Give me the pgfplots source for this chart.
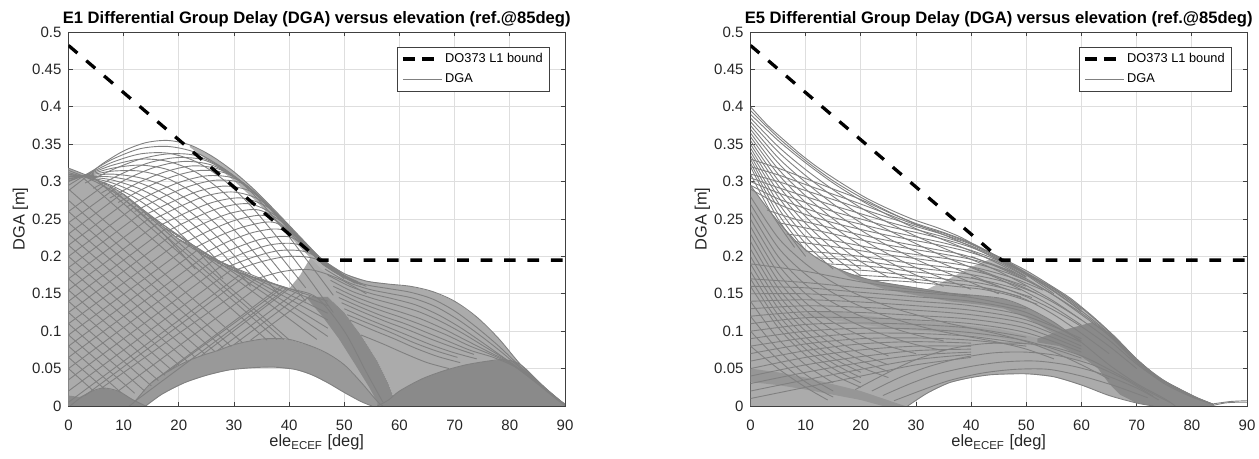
\documentclass[border=0pt]{standalone}
\usepackage{pgfplots}
\pgfplotsset{compat=1.18}
\usepackage{fontspec}
\setmainfont{Liberation Sans}

\pgfplotsset{
  dgaaxis/.style={
    scale only axis, width=248.25pt, height=187pt,
    xmin=0, xmax=90, ymin=0, ymax=0.5,
    xtick={0,10,20,30,40,50,60,70,80,90},
    xticklabels={0,10,20,30,40,50,60,70,80,90},
    ytick={0,0.05,0.1,0.15,0.2,0.25,0.3,0.35,0.4,0.45,0.5},
    yticklabels={0,0.05,0.1,0.15,0.2,0.25,0.3,0.35,0.4,0.45,0.5},
    /pgf/number format/assume math mode=true,
    tick align=inside, major tick length=2.2pt,
    tick style={black!75, line width=0.4pt},
    axis line style={black!75, line width=0.4pt},
    grid=major, major grid style={black!13, line width=0.4pt},
    ticklabel style={font=\fontsize{7.5}{9}\selectfont, text=black!85},
    xticklabel style={yshift=-3.4pt},
    xlabel style={at={(axis description cs:0.5,0)}, anchor=base, yshift=-20.5pt, font=\fontsize{8.2}{10}\selectfont, text=black!85},
    ylabel style={at={(axis description cs:-0.097,0.5)}, anchor=center, font=\fontsize{8.2}{10}\selectfont, text=black!85},
    title style={at={(axis description cs:0.5,1)}, anchor=base, yshift=-2pt, font=\bfseries\fontsize{8.3}{10}\selectfont},
    xlabel={ele\textsubscript{ECEF} [deg]},
    ylabel={DGA [m]},
    legend cell align=left,
    legend style={at={(axis description cs:0.97,0.961)}, anchor=north east,
      draw=black!75, line width=0.4pt, fill=white,
      font=\fontsize{6.4}{7.5}\selectfont,
      inner xsep=2pt, inner ysep=1.5pt, row sep=1.2pt,
      nodes={inner sep=1.5pt}},
  },
  dga/.style={gray, line width=0.45pt, smooth, tension=0.5, forget plot},
  hatch/.style={draw=none, fill=gray!66, forget plot},
  dense/.style={draw=none, fill=gray!92, forget plot},
  bound/.style={black, line width=1.65pt, dash pattern=on 5.85pt off 5.85pt, forget plot},
}

\begin{document}
\begin{tikzpicture}
\path[use as bounding box] (-34.25pt,-26.5pt) rectangle (595.25pt,203pt);

%================= E1 =================
\begin{axis}[dgaaxis, at={(0pt,0pt)}, anchor=south west,
  title={E1 Differential Group Delay (DGA) versus elevation (ref.@85deg)}]
\addlegendimage{legend image code/.code={\draw[black,line width=1.65pt] (0pt,0pt)--(6pt,0pt) (9.5pt,0pt)--(15.5pt,0pt);}}
\addlegendentry{DO373 L1 bound}
\addlegendimage{legend image code/.code={\draw[gray,line width=0.45pt] (0pt,0pt)--(19.5pt,0pt);}}
\addlegendentry{DGA}

% regions
\addplot[hatch] coordinates {(0,0) (0,0.318) (5,0.303) (10,0.283) (15,0.253) (20,0.223) (25,0.2) (30,0.181) (35,0.168) (40,0.157) (45,0.145) (48,0.11) (50,0.08) (53,0.045) (56,0.008) (57,0) (56,0.006) (53,0.032) (50,0.055) (47,0.07) (44,0.08) (40,0.089) (36,0.09) (33,0.087) (30,0.082) (27,0.074) (24,0.067) (21,0.058) (18,0.046) (15,0.031) (12,0.006) (11,0)} -- cycle;
\addplot[draw=none, fill=gray!80, forget plot] coordinates {(11,0) (12,0.006) (15,0.031) (18,0.046) (21,0.058) (24,0.067) (27,0.074) (30,0.082) (33,0.087) (36,0.09) (40,0.089) (44,0.08) (47,0.07) (50,0.055) (53,0.032) (56,0.006) (57,0) (55,0) (53,0.006) (50,0.018) (47,0.031) (44,0.042) (41,0.049) (37,0.052) (33,0.051) (29,0.048) (25,0.041) (21,0.031) (17,0.016) (14,0)} -- cycle;
\addplot[dense] coordinates {(0,0) (0,0.014) (2,0.012) (4,0.019) (6.3,0.024) (9,0.02) (11.5,0.009) (14,0)} -- cycle;
\addplot[hatch] coordinates {(40,0.157) (42,0.175) (44,0.2) (46,0.196) (50,0.177) (54,0.167) (58,0.163) (62,0.16) (66,0.153) (70,0.14) (74,0.119) (78,0.09) (82,0.055) (86,0.027) (90,0) (59.5,0) (58,0.03) (56,0.06) (53,0.095) (50,0.125) (47,0.146) (45,0.145)} -- cycle;
\addplot[dense] coordinates {(43,0.146) (46,0.12) (49,0.09) (52,0.055) (54.5,0.025) (56,0.005) (56,0) (59.5,0) (58,0.03) (56,0.06) (53,0.095) (50,0.125) (47,0.146)} -- cycle;
\addplot[dense] coordinates {(56,0) (58,0.008) (60,0.02) (64,0.036) (68,0.047) (72,0.055) (76,0.06) (79,0.062) (81,0.059) (83,0.047) (86,0.027) (90,0)} -- cycle;
\addplot[draw=none, fill=gray!60, forget plot] coordinates {(22,0.349) (26,0.334) (30,0.313) (34,0.287) (38,0.257) (42,0.226) (46,0.196) (50,0.177) (50,0.165) (46,0.182) (42,0.212) (38,0.243) (34,0.274) (30,0.301) (26,0.325) (22,0.346)} -- cycle;

% upper family
\addplot[dga] coordinates {(0,0.288) (3,0.305) (6,0.323) (10,0.341) (14,0.352) (18,0.355) (22,0.349) (26,0.334) (30,0.313) (34,0.287) (38,0.257) (42,0.226) (46,0.196) (50,0.177) (54,0.167) (58,0.163) (62,0.16) (66,0.153) (70,0.14) (74,0.119) (78,0.09) (82,0.055) (86,0.027) (90,0.001)};
\addplot[dga] coordinates {(0,0.295) (4,0.313) (8,0.33) (13,0.344) (18,0.347) (23,0.339) (28,0.318) (33,0.287) (38,0.245) (43,0.197) (48,0.148)};
\addplot[dga] coordinates {(0,0.30) (4,0.312) (8,0.326) (13,0.337) (18,0.338) (23,0.327) (28,0.303) (33,0.268) (38,0.224) (43,0.176) (48,0.125)};
\addplot[dga] coordinates {(0,0.301) (4,0.311) (8,0.322) (13,0.33) (18,0.327) (23,0.313) (28,0.286) (33,0.249) (38,0.204) (43,0.158)};
\addplot[dga] coordinates {(0,0.303) (4,0.31) (8,0.318) (13,0.322) (18,0.316) (23,0.298) (28,0.268) (33,0.229) (38,0.184) (43,0.14)};
\addplot[dga] coordinates {(0,0.304) (4,0.309) (8,0.314) (13,0.314) (18,0.304) (23,0.283) (28,0.251) (33,0.211) (38,0.167)};
\addplot[dga] coordinates {(0,0.306) (4,0.308) (8,0.31) (13,0.305) (18,0.292) (23,0.268) (28,0.234) (33,0.193) (38,0.15)};
\addplot[dga] coordinates {(0,0.307) (4,0.307) (8,0.306) (13,0.298) (18,0.281) (23,0.254) (28,0.218) (33,0.176)};
\addplot[dga] coordinates {(0,0.309) (4,0.306) (8,0.302) (13,0.29) (18,0.27) (23,0.24) (28,0.203) (33,0.16)};
\addplot[dga] coordinates {(0,0.31) (4,0.305) (8,0.298) (13,0.282) (18,0.258) (23,0.225) (28,0.187)};
\addplot[dga] coordinates {(0,0.312) (4,0.304) (8,0.294) (13,0.274) (18,0.246) (23,0.21) (28,0.17)};
\addplot[dga] coordinates {(0,0.315) (4,0.303) (8,0.287) (13,0.259) (18,0.224) (23,0.183)};
\addplot[dga] coordinates {(3,0.298) (8,0.316) (13,0.33) (18,0.337) (23,0.335) (28,0.318) (33,0.29) (38,0.254) (43,0.214) (48,0.18) (53,0.164)};
\addplot[dga] coordinates {(4.5,0.291) (9.5,0.31) (14.5,0.325) (19.5,0.332) (24.5,0.329) (29.5,0.31) (34.5,0.28) (39.5,0.243) (44.5,0.204) (49.5,0.175)};
\addplot[dga] coordinates {(6,0.285) (11,0.305) (16,0.32) (21,0.327) (26,0.322) (31,0.302) (36,0.27) (41,0.232) (46,0.194) (51,0.17)};
\addplot[dga] coordinates {(7.5,0.278) (12.5,0.298) (17.5,0.313) (22.5,0.321) (27.5,0.316) (32.5,0.293) (37.5,0.258) (42.5,0.221) (47.5,0.185) (52.5,0.166)};
\addplot[dga] coordinates {(9,0.272) (14,0.292) (19,0.307) (24,0.315) (29,0.31) (34,0.283) (39,0.245) (44,0.208) (49,0.176)};
\addplot[dga] coordinates {(10.5,0.266) (15.5,0.285) (20.5,0.3) (25.5,0.308) (30.5,0.303) (35.5,0.274) (40.5,0.232) (45.5,0.197) (50.5,0.171)};
\addplot[dga] coordinates {(12,0.26) (17,0.279) (22,0.294) (27,0.302) (32,0.296) (37,0.26) (42,0.22) (47,0.186) (52,0.164)};
\addplot[dga] coordinates {(13.5,0.254) (18.5,0.272) (23.5,0.287) (28.5,0.294) (33.5,0.285) (38.5,0.248) (43.5,0.21) (48.5,0.18)};
\addplot[dga] coordinates {(15,0.248) (20,0.266) (25,0.281) (30,0.286) (35,0.274) (40,0.236) (45,0.2) (50,0.172)};
\addplot[dga] coordinates {(16.5,0.241) (21.5,0.259) (26.5,0.273) (31.5,0.278) (36.5,0.264) (41.5,0.226) (46.5,0.191) (51.5,0.168)};
\addplot[dga] coordinates {(18,0.234) (23,0.252) (28,0.266) (33,0.27) (38,0.252) (43,0.212) (48,0.183) (53,0.162)};
\addplot[dga] coordinates {(19.5,0.226) (24.5,0.244) (29.5,0.258) (34.5,0.262) (39.5,0.242) (44.5,0.205) (49.5,0.177)};
\addplot[dga] coordinates {(21,0.218) (26,0.236) (31,0.25) (36,0.254) (41,0.228) (46,0.19) (51,0.168)};
\addplot[dga] coordinates {(22.5,0.21) (27.5,0.228) (32.5,0.241) (37.5,0.245) (42.5,0.218) (47.5,0.185) (52.5,0.163)};
\addplot[dga] coordinates {(24,0.202) (29,0.22) (34,0.233) (39,0.235) (44,0.205) (49,0.176) (54,0.16)};
\addplot[dga] coordinates {(25.5,0.196) (30.5,0.212) (35.5,0.224) (40.5,0.225) (45.5,0.196) (50.5,0.172)};
\addplot[dga] coordinates {(27,0.19) (32,0.205) (37,0.216) (42,0.215) (47,0.186) (52,0.165)};
\addplot[dga] coordinates {(28.5,0.185) (33.5,0.199) (38.5,0.208) (43.5,0.205) (48.5,0.18)};
\addplot[dga] coordinates {(30,0.181) (35,0.193) (40,0.2) (45,0.196) (50,0.17)};
\addplot[dga] coordinates {(34,0.17) (39,0.18) (44,0.182) (49,0.17) (54,0.15)};
\addplot[dga] coordinates {(0,0.318) (5,0.303) (10,0.283) (15,0.253) (20,0.223) (25,0.2) (30,0.181) (35,0.168) (40,0.157) (45,0.145) (50,0.1) (54,0.045) (57,0.005)};
% crosshatch in the dense left region
\addplot[dga] coordinates {(0,0.26) (7,0.298)};
\addplot[dga] coordinates {(0,0.245) (8.5,0.291)};
\addplot[dga] coordinates {(0,0.23) (9.7,0.284)};
\addplot[dga] coordinates {(0,0.215) (11,0.276)};
\addplot[dga] coordinates {(0,0.2) (12.5,0.269)};
\addplot[dga] coordinates {(0,0.185) (13.8,0.261)};
\addplot[dga] coordinates {(0,0.17) (15,0.253)};
\addplot[dga] coordinates {(0,0.155) (16.3,0.245)};
\addplot[dga] coordinates {(0,0.14) (17.6,0.237)};
\addplot[dga] coordinates {(0,0.125) (19,0.23)};
\addplot[dga] coordinates {(0,0.11) (20.5,0.222)};
\addplot[dga] coordinates {(0,0.095) (22,0.215)};
\addplot[dga] coordinates {(0,0.08) (23.3,0.208)};
\addplot[dga] coordinates {(0,0.065) (25,0.202)};
\addplot[dga] coordinates {(0,0.05) (26.5,0.196)};
\addplot[dga] coordinates {(0,0.035) (28,0.189)};
\addplot[dga] coordinates {(0,0.02) (29.5,0.182)};
\addplot[dga] coordinates {(0,0.005) (31,0.175)};
\addplot[dga] coordinates {(3,0.014) (32,0.1735)};
\addplot[dga] coordinates {(6,0.024) (34,0.17)};
\addplot[dga] coordinates {(9,0.02) (35.8,0.167)};
\addplot[dga] coordinates {(12,0.006) (39.5,0.157)};
\addplot[dga] coordinates {(15,0.031) (38.5,0.16)};
\addplot[dga] coordinates {(18,0.046) (39,0.159)};
\addplot[dga] coordinates {(24,0.067) (40,0.157)};
\addplot[dga] coordinates {(27,0.074) (41.7,0.155)};
\addplot[dga] coordinates {(30,0.082) (42.5,0.151)};
\addplot[dga] coordinates {(33,0.088) (43.8,0.147)};
\addplot[dga] coordinates {(0,0.29) (31.5,0.085)};
\addplot[dga] coordinates {(0,0.275) (29.5,0.0795)};
\addplot[dga] coordinates {(0,0.26) (28,0.078)};
\addplot[dga] coordinates {(0,0.245) (26.5,0.073)};
\addplot[dga] coordinates {(0,0.23) (24.8,0.069)};
\addplot[dga] coordinates {(0,0.215) (23,0.065)};
\addplot[dga] coordinates {(0,0.2) (21.5,0.06)};
\addplot[dga] coordinates {(0,0.185) (20,0.055)};
\addplot[dga] coordinates {(0,0.17) (18.7,0.048)};
\addplot[dga] coordinates {(0,0.155) (17.5,0.041)};
\addplot[dga] coordinates {(0,0.14) (16.3,0.034)};
\addplot[dga] coordinates {(0,0.125) (15,0.027)};
\addplot[dga] coordinates {(0,0.11) (13.8,0.02)};
\addplot[dga] coordinates {(0,0.095) (12,0.017)};
\addplot[dga] coordinates {(0,0.08) (9.5,0.018)};
\addplot[dga] coordinates {(0,0.065) (6.5,0.023)};
\addplot[dga] coordinates {(0,0.05) (4.4,0.021)};
\addplot[dga] coordinates {(2.5,0.306) (36,0.088)};
\addplot[dga] coordinates {(5,0.303) (37.8,0.089)};
\addplot[dga] coordinates {(7.5,0.293) (39,0.089)};
\addplot[dga] coordinates {(10,0.283) (40,0.0885)};
\addplot[dga] coordinates {(12.5,0.268) (45,0.089)};
\addplot[dga] coordinates {(15,0.253) (47,0.093)};
\addplot[dga] coordinates {(17.5,0.238) (47,0.104)};
\addplot[dga] coordinates {(20,0.223) (47,0.115)};
\addplot[dga] coordinates {(22.5,0.211) (47,0.124)};
\addplot[dga] coordinates {(25,0.2) (47,0.134)};
\addplot[dga] coordinates {(30,0.181) (47,0.14)};
% right region
\addplot[dga] coordinates {(46,0.19) (50,0.172) (54,0.162) (58,0.157) (62,0.152) (66,0.143) (70,0.127) (74,0.105) (78,0.08) (82,0.052) (86,0.026) (90,0.001)};
\addplot[dga] coordinates {(46.5,0.183) (50.5,0.166) (54.5,0.156) (58.5,0.15) (62.5,0.144) (66.5,0.133) (70.5,0.116) (74.5,0.095) (78.5,0.072) (82.5,0.047) (86.5,0.023) (90,0.002)};
\addplot[dga] coordinates {(47,0.175) (51,0.16) (55,0.15) (59,0.143) (63,0.135) (67,0.122) (71,0.105) (75,0.085) (79,0.064) (83,0.042) (87,0.02) (90,0.002)};
\addplot[dga] coordinates {(47.5,0.168) (51.5,0.153) (55.5,0.143) (59.5,0.135) (63.5,0.126) (67.5,0.113) (71.5,0.097) (75.5,0.079) (79.5,0.061) (83.5,0.039) (87.5,0.016)};
\addplot[dga] coordinates {(48,0.16) (52,0.146) (56,0.135) (60,0.126) (64,0.116) (68,0.103) (72,0.088) (76,0.073) (80,0.058) (84,0.036) (88,0.012) (90,0.003)};
\addplot[dga] coordinates {(48.5,0.153) (52.5,0.139) (56.5,0.128) (60.5,0.118) (64.5,0.107) (68.5,0.095) (72.5,0.081) (76.5,0.069) (80.5,0.055) (84.5,0.033)};
\addplot[dga] coordinates {(49,0.145) (53,0.132) (57,0.12) (61,0.11) (65,0.098) (69,0.086) (73,0.074) (77,0.065) (81,0.052) (85,0.03) (89,0.006)};
\addplot[dga] coordinates {(49.5,0.138) (53.5,0.125) (57.5,0.113) (61.5,0.102) (65.5,0.09) (69.5,0.079) (73.5,0.069)};
\addplot[dga] coordinates {(50,0.13) (54,0.117) (58,0.105) (62,0.093) (66,0.081) (70,0.071) (74,0.063)};
\addplot[dga] coordinates {(50.5,0.122) (54.5,0.11) (58.5,0.098) (62.5,0.085) (66.5,0.074) (70.5,0.065)};
\addplot[dga] coordinates {(51,0.115) (55,0.102) (59,0.09) (63,0.077) (67,0.066) (71,0.058)};
\addplot[dga] coordinates {(53,0.095) (57,0.083) (61,0.07) (65,0.058) (69,0.05)};
% arches
\addplot[dga] coordinates {(11,0) (12,0.006) (15,0.031) (18,0.046) (21,0.058) (24,0.067) (27,0.074) (30,0.082) (33,0.087) (36,0.09) (40,0.089) (44,0.08) (47,0.07) (50,0.055) (53,0.032) (56,0.006) (57,0)};
\addplot[dga] coordinates {(14,0) (17,0.016) (21,0.031) (25,0.041) (29,0.048) (33,0.051) (37,0.052) (41,0.049) (44,0.042) (47,0.031) (50,0.018) (53,0.006) (55,0)};
\addplot[dga] coordinates {(0.3,0) (2,0.01) (4,0.019) (6.3,0.024) (9,0.02) (11.5,0.009) (14,0)};
\addplot[dga] coordinates {(56,0) (58,0.008) (60,0.02) (64,0.036) (68,0.047) (72,0.055) (76,0.06) (79,0.062) (82,0.055) (86,0.027) (90,0)};

\addplot[bound] coordinates {(0,0.482) (45.5,0.195) (90,0.195)};
\end{axis}

%================= E5 =================
\begin{axis}[dgaaxis, at={(341pt,0pt)}, anchor=south west,
  title={E5 Differential Group Delay (DGA) versus elevation (ref.@85deg)}]
\addlegendimage{legend image code/.code={\draw[black,line width=1.65pt] (0pt,0pt)--(6pt,0pt) (9.5pt,0pt)--(15.5pt,0pt);}}
\addlegendentry{DO373 L1 bound}
\addlegendimage{legend image code/.code={\draw[gray,line width=0.45pt] (0pt,0pt)--(19.5pt,0pt);}}
\addlegendentry{DGA}

% regions
\addplot[hatch] coordinates {(0,0) (0,0.295) (3,0.265) (6,0.238) (9,0.215) (12,0.198) (15,0.186) (18,0.177) (21,0.17) (24,0.165) (30,0.158) (36,0.151) (42,0.147) (46,0.143) (50,0.132) (55,0.112) (60,0.085) (65,0.055) (70,0.03) (75,0.01) (77,0) (73,0) (70,0.004) (65,0.014) (60,0.028) (55,0.039) (50,0.043) (44,0.042) (40,0.038) (36,0.031) (32,0.017) (28.5,0)} -- cycle;
\addplot[draw=none, fill=gray!56, forget plot] coordinates {(32,0.156) (36,0.17) (40,0.186) (44,0.198) (46,0.196) (50,0.181) (54,0.163) (58,0.144) (62,0.12) (66,0.093) (70,0.063) (74,0.038) (78,0.022) (81,0.011) (84,0.002) (77,0) (75,0.01) (70,0.03) (65,0.055) (60,0.085) (55,0.112) (50,0.132) (46,0.143) (42,0.147) (36,0.151)} -- cycle;
\addplot[draw=none, fill=gray!74, forget plot] coordinates {(8,0.122) (15,0.127) (25,0.117) (35,0.111) (45,0.103) (52,0.091) (58,0.075) (62,0.06) (58,0.062) (52,0.08) (45,0.091) (35,0.098) (25,0.104) (15,0.115)} -- cycle;
\addplot[draw=none, fill=gray!86, forget plot] coordinates {(15,0.186) (18,0.177) (21,0.17) (24,0.165) (30,0.158) (36,0.151) (42,0.147) (46,0.143) (50,0.132) (55,0.112) (60,0.085) (65,0.055) (70,0.03) (74,0.012) (70,0.018) (65,0.04) (60,0.07) (55,0.097) (50,0.118) (46,0.13) (42,0.135) (36,0.14) (30,0.148) (24,0.157) (18,0.172)} -- cycle;
\addplot[dense] coordinates {(52,0.09) (56,0.1) (60,0.108) (62,0.112) (66,0.093) (70,0.063) (74,0.038) (78,0.022) (81,0.011) (84,0.002) (84,0) (73,0) (70,0.004) (67,0.015) (65,0.03) (63,0.05) (60,0.066) (56,0.08) (52,0.085)} -- cycle;
\addplot[draw=none, fill=gray!82, forget plot] coordinates {(0,0.05) (5,0.045) (10,0.038) (15,0.029) (20,0.02) (24,0.01) (28,0) (24,0) (20,0.008) (15,0.015) (10,0.022) (5,0.028) (0,0.032)} -- cycle;

% upper family
\addplot[dga] coordinates {(0,0.4) (3,0.376) (6,0.356) (9,0.337) (12,0.32) (15,0.305) (18,0.291) (21,0.278) (24,0.267) (27,0.257) (30,0.248) (34,0.238) (38,0.226) (42,0.21) (46,0.196) (50,0.181) (54,0.163) (58,0.144) (62,0.12) (66,0.093) (70,0.063) (74,0.038) (78,0.022) (81,0.011) (84,0.002)};
\addplot[dga] coordinates {(84,0.001) (86,0.004) (88,0.005) (90,0.005)};
\addplot[dga] coordinates {(84,0.003) (87,0.006) (90,0.007)};
\addplot[dga] coordinates {(0,0.395) (5,0.359) (10,0.328) (15,0.301) (20,0.279) (25,0.26) (30,0.243) (35,0.229) (40,0.213) (45,0.195) (50,0.176) (55,0.153) (60,0.127) (65,0.097) (70,0.06) (75,0.032) (80,0.013) (84,0.002)};
\addplot[dga] coordinates {(0,0.39) (5,0.355) (10,0.325) (15,0.298) (20,0.275) (25,0.255) (30,0.237) (35,0.222) (40,0.207) (45,0.19) (50,0.17) (55,0.148) (60,0.122) (65,0.094) (70,0.058) (75,0.03) (80,0.012) (84,0.002)};
\addplot[dga] coordinates {(0,0.385) (5,0.347) (10,0.316) (15,0.289) (20,0.265) (25,0.245) (30,0.227) (35,0.211) (40,0.196) (45,0.18) (50,0.161) (55,0.14) (60,0.115)};
\addplot[dga] coordinates {(0,0.38) (5,0.34) (10,0.308) (15,0.28) (20,0.255) (25,0.235) (30,0.217) (35,0.2) (40,0.185) (45,0.17) (50,0.152) (55,0.132) (60,0.108)};
\addplot[dga] coordinates {(0,0.375) (5,0.332) (10,0.299) (15,0.27) (20,0.245) (25,0.224) (30,0.206) (35,0.19) (40,0.175) (45,0.16)};
\addplot[dga] coordinates {(0,0.37) (5,0.325) (10,0.29) (15,0.26) (20,0.235) (25,0.214) (30,0.196) (35,0.18) (40,0.165) (45,0.15)};
\addplot[dga] coordinates {(0,0.365) (5,0.317) (10,0.281) (15,0.25) (20,0.224) (25,0.203) (30,0.185) (35,0.17) (40,0.156)};
\addplot[dga] coordinates {(0,0.36) (5,0.31) (10,0.272) (15,0.24) (20,0.214) (25,0.193) (30,0.175) (35,0.16)};
\addplot[dga] coordinates {(0,0.355) (5,0.302) (10,0.262) (15,0.23) (20,0.203) (25,0.182) (30,0.166)};
\addplot[dga] coordinates {(0,0.35) (5,0.295) (10,0.253) (15,0.22) (20,0.193) (25,0.172)};
\addplot[dga] coordinates {(0,0.345) (5,0.287) (10,0.244) (15,0.21) (20,0.183)};
\addplot[dga] coordinates {(0,0.34) (5,0.28) (10,0.235) (15,0.2) (20,0.174)};
\addplot[dga] coordinates {(0,0.335) (5,0.272) (10,0.226) (15,0.191)};
\addplot[dga] coordinates {(0,0.33) (5,0.265) (10,0.217) (15,0.183)};
\addplot[dga] coordinates {(0,0.325) (5,0.257) (10,0.208)};
\addplot[dga] coordinates {(0,0.32) (5,0.25) (10,0.2)};
\addplot[dga] coordinates {(0,0.31) (4,0.255) (8,0.212)};
\addplot[dga] coordinates {(0,0.33) (5,0.318) (10,0.304) (15,0.29) (20,0.276) (25,0.259) (30,0.244) (35,0.232) (40,0.218) (45,0.199) (50,0.178) (55,0.157) (60,0.131) (65,0.099) (70,0.062) (75,0.034) (80,0.014) (84,0.002)};
\addplot[dga] coordinates {(0,0.32) (5,0.309) (10,0.296) (15,0.283) (20,0.27) (25,0.256) (30,0.242) (35,0.231) (40,0.217) (45,0.199) (50,0.178) (55,0.156) (60,0.129)};
\addplot[dga] coordinates {(0,0.31) (5,0.3) (10,0.288) (15,0.276) (20,0.264) (25,0.252) (30,0.24) (35,0.229) (40,0.216) (45,0.198) (50,0.177) (55,0.154) (60,0.126)};
\addplot[dga] coordinates {(0,0.305) (5,0.292) (10,0.28) (15,0.268) (20,0.257) (25,0.246) (30,0.236) (35,0.226) (40,0.214) (45,0.197) (50,0.176)};
\addplot[dga] coordinates {(0,0.30) (5,0.285) (10,0.272) (15,0.26) (20,0.25) (25,0.24) (30,0.232) (35,0.223) (40,0.212) (45,0.196) (50,0.175) (55,0.15)};
\addplot[dga] coordinates {(0,0.295) (5,0.277) (10,0.264) (15,0.252) (20,0.243) (25,0.234) (30,0.226) (35,0.218) (40,0.208) (45,0.194) (50,0.173)};
\addplot[dga] coordinates {(0,0.29) (5,0.27) (10,0.256) (15,0.245) (20,0.236) (25,0.228) (30,0.221) (35,0.214) (40,0.205) (45,0.192) (50,0.172)};
\addplot[dga] coordinates {(3,0.262) (8,0.25) (13,0.241) (18,0.232) (23,0.224) (28,0.217) (33,0.21) (38,0.203) (43,0.192) (48,0.178)};
\addplot[dga] coordinates {(5,0.245) (10,0.238) (15,0.23) (20,0.222) (25,0.215) (30,0.209) (35,0.203) (40,0.196) (45,0.186) (50,0.17)};
\addplot[dga] coordinates {(6.5,0.23) (11.5,0.225) (16.5,0.219) (21.5,0.212) (26.5,0.206) (31.5,0.201) (36.5,0.196) (41.5,0.189) (46.5,0.178) (51.5,0.163)};
\addplot[dga] coordinates {(8,0.22) (13,0.215) (18,0.21) (23,0.204) (28,0.199) (33,0.194) (38,0.189) (43,0.181) (48,0.17) (53,0.155)};
\addplot[dga] coordinates {(10,0.207) (15,0.204) (20,0.2) (25,0.195) (30,0.19) (35,0.186) (40,0.181) (45,0.172) (50,0.16)};
\addplot[dga] coordinates {(12,0.198) (17,0.196) (22,0.192) (27,0.187) (32,0.183) (37,0.179) (42,0.173) (47,0.164) (52,0.15)};
\addplot[dga] coordinates {(14,0.19) (19,0.188) (24,0.185) (29,0.18) (34,0.176) (39,0.172) (44,0.165) (49,0.155)};
\addplot[dga] coordinates {(16,0.183) (21,0.181) (26,0.177) (31,0.173) (36,0.169) (41,0.165) (46,0.157) (51,0.145)};
\addplot[dga] coordinates {(19,0.175) (24,0.173) (29,0.17) (34,0.166) (39,0.162) (44,0.156) (49,0.146)};
\addplot[dga] coordinates {(22,0.168) (27,0.167) (32,0.164) (37,0.16) (42,0.156) (47,0.148) (52,0.136)};
\addplot[dga] coordinates {(40,0.2) (45,0.185) (50,0.168) (55,0.148) (60,0.124) (65,0.096) (70,0.06) (75,0.033) (80,0.014)};
\addplot[dga] coordinates {(40,0.186) (45,0.172) (50,0.157) (55,0.138) (60,0.115) (65,0.088) (70,0.056) (75,0.03)};
\addplot[dga] coordinates {(40,0.172) (45,0.16) (50,0.146) (55,0.128) (60,0.106) (65,0.08) (70,0.05)};
\addplot[dga] coordinates {(42,0.158) (46,0.152) (50,0.142) (55,0.122) (60,0.097) (65,0.07)};
% lower family
\addplot[dga] coordinates {(0,0.295) (3,0.265) (6,0.238) (9,0.215) (12,0.198) (15,0.186) (18,0.177) (21,0.17) (24,0.165) (30,0.158) (36,0.151) (42,0.147) (46,0.143) (50,0.132) (55,0.112) (60,0.085) (65,0.055) (70,0.03) (75,0.01) (77,0)};
\addplot[dga] coordinates {(0,0.28) (5,0.225) (10,0.19) (15,0.165) (20,0.147) (25,0.133) (30,0.122) (35,0.112) (40,0.104) (45,0.096) (50,0.086) (55,0.072) (60,0.055) (65,0.036)};
\addplot[dga] coordinates {(0,0.27) (5,0.212) (10,0.176) (15,0.151) (20,0.133) (25,0.119) (30,0.108) (35,0.099) (40,0.092) (45,0.085) (50,0.076) (55,0.063)};
\addplot[dga] coordinates {(0,0.26) (5,0.2) (10,0.162) (15,0.138) (20,0.12) (25,0.106) (30,0.095) (35,0.087)};
\addplot[dga] coordinates {(0,0.25) (5,0.189) (10,0.15) (15,0.125) (20,0.107) (25,0.093) (30,0.082) (35,0.074)};
\addplot[dga] coordinates {(0,0.24) (5,0.178) (10,0.138) (15,0.112) (20,0.094) (25,0.08) (30,0.07)};
\addplot[dga] coordinates {(0,0.23) (5,0.168) (10,0.128) (15,0.101) (20,0.082) (25,0.067)};
\addplot[dga] coordinates {(0,0.22) (5,0.158) (10,0.118) (15,0.09) (20,0.07) (25,0.055)};
\addplot[dga] coordinates {(0,0.21) (5,0.149) (10,0.109) (15,0.081) (20,0.061) (25,0.046)};
\addplot[dga] coordinates {(0,0.2) (5,0.14) (10,0.1) (15,0.072) (20,0.052) (25,0.038)};
\addplot[dga] coordinates {(0,0.19) (5,0.131) (10,0.092) (15,0.064) (20,0.045)};
\addplot[dga] coordinates {(0,0.18) (5,0.122) (10,0.084) (15,0.057) (20,0.038)};
\addplot[dga] coordinates {(0,0.17) (5,0.113) (10,0.076) (15,0.05) (20,0.031)};
\addplot[dga] coordinates {(0,0.16) (5,0.105) (10,0.068) (15,0.042) (20,0.025)};
\addplot[dga] coordinates {(0,0.14) (5,0.09) (10,0.055) (15,0.031)};
\addplot[dga] coordinates {(0,0.12) (5,0.075) (10,0.042) (15,0.02)};
\addplot[dga] coordinates {(0,0.1) (5,0.062) (10,0.032) (15,0.012)};
\addplot[dga] coordinates {(0,0.08) (5,0.05) (10,0.025) (14,0.008)};
\addplot[dga] coordinates {(0,0.19) (10,0.18) (20,0.166) (30,0.155) (40,0.147)};
\addplot[dga] coordinates {(0,0.17) (10,0.165) (20,0.158) (30,0.152) (40,0.145) (50,0.13)};
\addplot[dga] coordinates {(0,0.16) (10,0.158) (20,0.152) (30,0.146) (40,0.14) (50,0.125) (60,0.087)};
\addplot[dga] coordinates {(0,0.15) (10,0.15) (20,0.146) (30,0.14) (40,0.134) (50,0.12) (60,0.09)};
\addplot[dga] coordinates {(0,0.14) (10,0.142) (20,0.139) (30,0.134) (40,0.128) (50,0.115) (60,0.085)};
\addplot[dga] coordinates {(0,0.13) (10,0.134) (20,0.132) (30,0.128) (40,0.122) (50,0.11) (60,0.08)};
\addplot[dga] coordinates {(0,0.12) (10,0.126) (20,0.125) (30,0.121) (40,0.116) (50,0.104) (60,0.076)};
\addplot[dga] coordinates {(0,0.11) (10,0.118) (20,0.118) (30,0.115) (40,0.11) (50,0.098) (60,0.072)};
\addplot[dga] coordinates {(0,0.1) (10,0.109) (20,0.111) (30,0.109) (40,0.104) (50,0.092)};
\addplot[dga] coordinates {(0,0.09) (10,0.1) (20,0.104) (30,0.103) (40,0.098) (50,0.087) (60,0.064)};
\addplot[dga] coordinates {(0,0.08) (10,0.091) (20,0.097) (30,0.097) (40,0.093) (50,0.083)};
\addplot[dga] coordinates {(0,0.07) (10,0.083) (20,0.09) (30,0.091) (40,0.088) (50,0.08)};
\addplot[dga] coordinates {(0,0.06) (10,0.074) (20,0.083) (30,0.086) (40,0.084)};
\addplot[dga] coordinates {(0,0.05) (10,0.065) (20,0.075) (30,0.08) (40,0.08)};
\addplot[dga] coordinates {(0,0.04) (10,0.055) (20,0.066) (30,0.074) (40,0.076)};
\addplot[dga] coordinates {(0,0.03) (10,0.045) (20,0.058) (30,0.068) (40,0.072)};
\addplot[dga] coordinates {(0,0.02) (10,0.035) (20,0.049) (30,0.062) (40,0.069)};
\addplot[dga] coordinates {(0,0.01) (10,0.025) (20,0.04) (30,0.055) (40,0.065)};
% C arches
\addplot[dga] coordinates {(19,0.022) (25,0.045) (30,0.062) (36,0.076) (42,0.083) (48,0.084) (54,0.08) (60,0.067) (66,0.045) (72,0.02) (76,0.005)};
\addplot[dga] coordinates {(22,0.02) (27,0.038) (32,0.052) (38,0.064) (44,0.071) (50,0.072) (56,0.067) (62,0.055) (68,0.035) (73,0.013)};
\addplot[dga] coordinates {(24,0.014) (29,0.03) (34,0.043) (40,0.053) (46,0.059) (52,0.06) (58,0.054) (64,0.042) (70,0.024) (74,0.008)};
\addplot[dga] coordinates {(26,0.007) (31,0.021) (36,0.034) (42,0.044) (48,0.049) (54,0.049) (60,0.04) (66,0.027) (72,0.011)};
\addplot[dga] coordinates {(28.5,0) (32,0.017) (36,0.031) (40,0.038) (44,0.042) (50,0.043) (55,0.039) (60,0.028) (65,0.014) (70,0.004) (73,0)};

\addplot[bound] coordinates {(0,0.482) (45.5,0.195) (90,0.195)};
\end{axis}
\end{tikzpicture}
\end{document}
